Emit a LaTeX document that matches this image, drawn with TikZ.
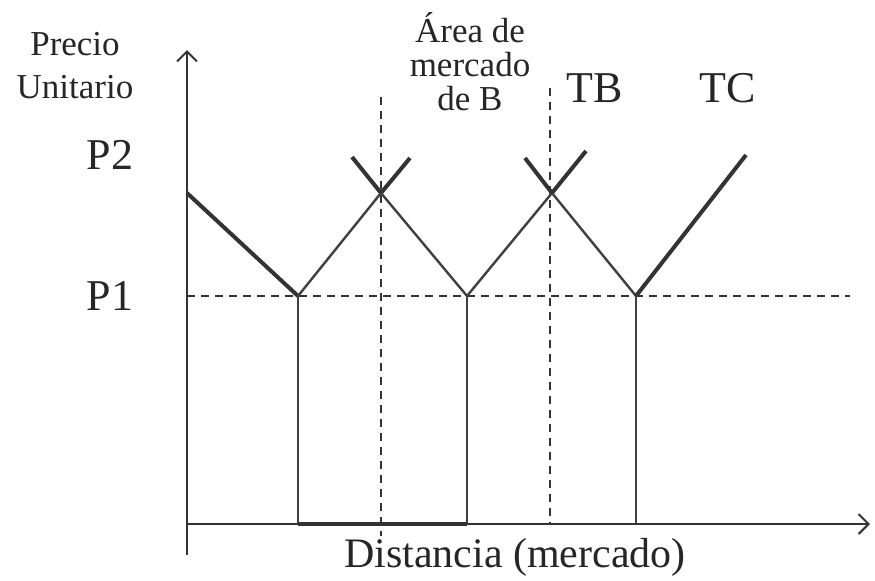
\documentclass[tikz,border=0pt]{standalone}
\usepackage{fontspec}
\setmainfont{Liberation Serif}
\usepackage{tikz}
\usetikzlibrary{arrows.meta, positioning, calc}

\begin{document}
\begin{tikzpicture}[
    x=0.5pt, y=-0.5pt,
    axis/.style={draw=black!80, line width=1pt},
    cost/.style={draw=black!75, line width=1.2pt},
    costbold/.style={draw=black!80, line width=2pt},
    guide/.style={draw=black!80, line width=0.8pt, dash pattern=on 4pt off 3pt},
    big/.style={font=\fontsize{22}{24}\selectfont, text=black!85},
    small/.style={font=\fontsize{17.5}{17}\selectfont, text=black!85, align=center},
]
\useasboundingbox (0,0) rectangle (875,580);

% Points
\coordinate (o) at (187,524);
\coordinate (ytop) at (187,50);
\coordinate (ybot) at (187,555);
\coordinate (xend) at (870,524);
\coordinate (p1a) at (187,296);
\coordinate (p1b) at (850,296);
\coordinate (s0) at (187,193);
\coordinate (v1) at (298,296);
\coordinate (v2) at (467,296);
\coordinate (v3) at (636,296);
\coordinate (c1) at (381,193);
\coordinate (c2) at (552,193);
\coordinate (a1) at (410,158);
\coordinate (b1) at (352,157);
\coordinate (a2) at (586,151);
\coordinate (b2) at (525,158);
\coordinate (tc) at (746,155);
\coordinate (w1) at (298,524);
\coordinate (w2) at (467,524);
\coordinate (w3) at (636,524);
\coordinate (d1t) at (381,97);
\coordinate (d1b) at (381,536);
\coordinate (d2t) at (550,88);
\coordinate (d2b) at (550,524);

% Axes
\draw[axis, -{Straight Barb[length=5pt]}] (ybot) -- (ytop);
\draw[axis, -{Straight Barb[length=5pt]}] (o) -- (xend);

% Guides
\draw[guide] (p1a) -- (p1b);
\draw[guide] (d1t) -- (d1b);
\draw[guide] (d2t) -- (d2b);

% Cost lines
\draw[costbold] (s0) -- (v1);
\draw[cost] (v1) -- (c1);
\draw[costbold] (c1) -- (a1);
\draw[costbold] (b1) -- (c1);
\draw[cost] (c1) -- (v2);
\draw[cost] (v2) -- (c2);
\draw[costbold] (c2) -- (a2);
\draw[costbold] (b2) -- (c2);
\draw[cost] (c2) -- (v3);
\draw[costbold] (v3) -- (tc);

% Market borders
\draw[cost] (v1) -- (w1);
\draw[cost] (v2) -- (w2);
\draw[cost] (v3) -- (w3);
\draw[costbold] (w1) -- (w2);

% Labels
\node[small, font=\fontsize{17.5}{21.5}\selectfont] (ylab) at (75,66) {Precio\\Unitario};
\node[big] (lp2) at (110,155) {P2};
\node[big] (lp1) at (110,296) {P1};
\node[small] (area) at (470,62) {Área de\\mercado\\de B};
\node[big] (ltb) at (595,88) {TB};
\node[big] (ltc) at (728,88) {TC};
\node[big, font=\fontsize{21}{24}\selectfont] (xlab) at (515,557) {Distancia (mercado)};

\end{tikzpicture}
\end{document}
